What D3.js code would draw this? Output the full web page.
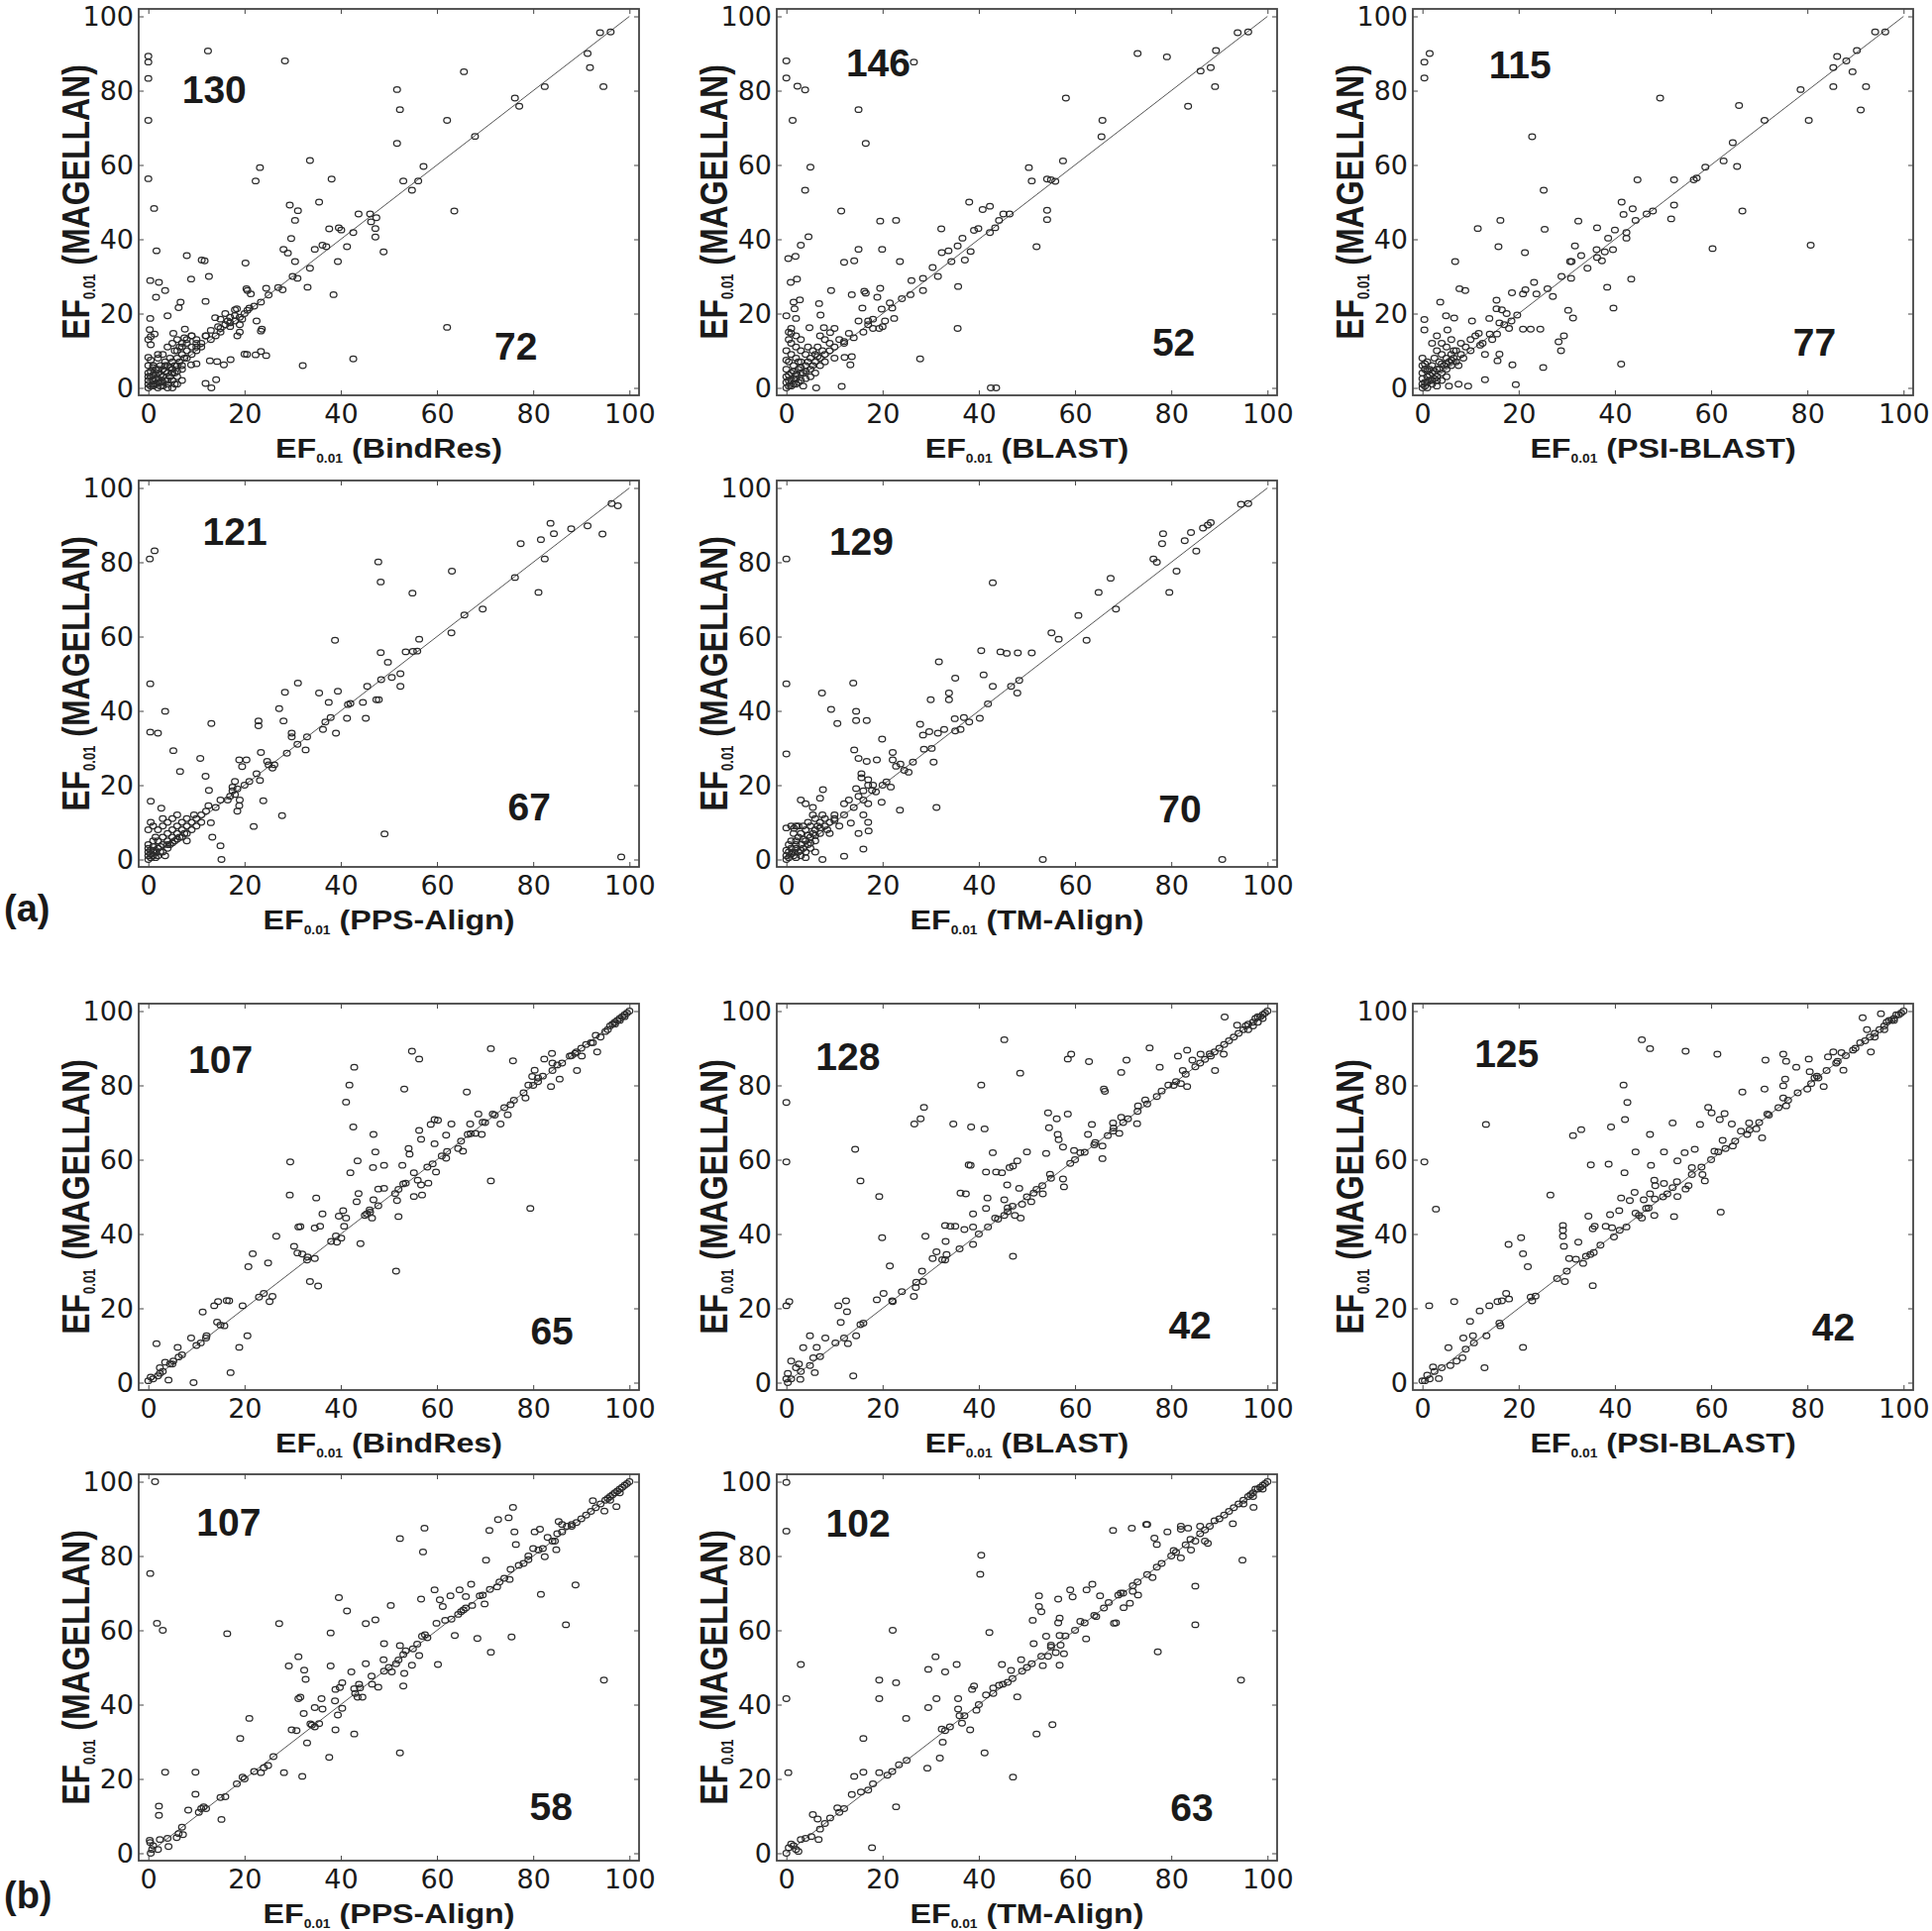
<!DOCTYPE html>
<html>
<head>
<meta charset="utf-8">
<script src="https://cdn.jsdelivr.net/npm/d3@7"></script>
<style>
  body { margin: 0; background: #fff; }
  svg { display: block; }
</style>
</head>
<body>
<script>

var tools = ['BindRes', 'BLAST', 'PSI-BLAST', 'PPS-Align', 'TM-Align',
             'BindRes', 'BLAST', 'PSI-BLAST', 'PPS-Align', 'TM-Align'];
var aboveCounts = [130, 146, 115, 121, 129, 107, 128, 125, 107, 102];
var belowCounts = [72, 52, 77, 67, 70, 65, 42, 42, 58, 63];
// where each count sits, in data units
var aboveAt = [[13.7, 80.3], [19.1, 87.4], [20.3, 86.9], [18, 88.3], [15.6, 85.6],
               [15, 87], [12.8, 87.7], [17.5, 88.6], [16.7, 89.1], [14.9, 88.7]];
var belowAt = [[76.4, 11.3], [80.5, 12.4], [81.5, 12.4], [79.2, 14.1], [81.8, 13.7],
               [83.9, 13.8], [83.9, 15.4], [85.4, 14.9], [83.7, 12.5], [84.3, 12.3]];
var ticks = [0, 20, 40, 60, 80, 100];
var partLabels = ['(a)', '(b)'];

// (a) panels: [x, y] = [EF tool, EF MAGELLAN]
var aBindRes = [[0,89.3],[0,87.7],[0,83.3],[0,72],[0,56.3],[1.2,48.3],[12.4,90.7],[28.4,88],[51.7,80.3],[52.3,74.9],[51.7,65.8],[65.6,85.1],[62.1,72],[63.6,47.6],[62.1,16.3],[67.9,67.7],[76.2,78],[77.1,75.8],[82.4,81.1],[91.3,90],[91.8,86.2],[94.6,81.1],[93.9,95.6],[96.1,95.8],[33.6,61.2],[23.2,59.3],[22.3,55.7],[38.1,56.2],[35.5,50],[57.2,59.6],[53,55.7],[56.1,55.7],[54.8,53.2],[43.7,46.8],[46.1,46.8],[46.3,44.7],[47.4,45.8],[47.2,42.9],[47.2,40.6],[48.9,36.6],[42.6,41.8],[37.6,42.8],[39.6,43.1],[40.1,42.5],[41.3,38],[39.4,34],[38.5,25.1],[37,38],[34.6,37.3],[36.2,38.4],[33.6,32.2],[33.1,27.1],[29.4,49.2],[31.1,47.7],[30.5,45.1],[29.7,40.2],[28.1,37.3],[29,36.3],[30.5,34],[31,29.5],[27.9,26.4],[11.1,34.4],[11.7,34.2],[8,35.6],[1.7,36.9],[8.9,29.3],[12.6,30],[0.4,28.9],[2.2,28.4],[3.5,26.2],[1.6,24.4],[6.7,23.1],[6.3,21.6],[11.9,23.3],[20.2,33.6],[20.4,26.7],[20.6,26.2],[21.3,25.3],[24.5,26.8],[23.4,23.1],[20.6,20.9],[18.4,21.3],[22.5,18],[23.6,15.8],[23.4,15.3],[0.4,18.7],[4,19.4],[0.3,15.7],[0.5,13.8],[1.3,14.5],[0,13],[0.5,11.6],[0,8.2],[2,9],[7.6,15.8],[5.2,14.7],[7.5,13.5],[9,14],[10,12],[11.9,14],[13,13],[13.9,18.9],[15,18.5],[16,20],[17,19],[18,21],[18,18],[19,17],[17,16.5],[15,16],[14,14],[19,15],[18.5,14],[11.9,1.2],[13.1,0],[14.1,2.2],[12.8,7.3],[14.3,7.1],[15.7,6.2],[17.1,7.6],[20,9.1],[22.3,8.9],[23.4,9.8],[24.5,8.7],[20.5,9],[8.9,6.2],[10,6.5],[32.1,6],[42.6,7.8],[15,15],[16,17],[17,17.5],[19,19],[20,20],[21,21.5],[22,22],[25,25],[27,27],[30,30],[16.5,18],[18,19.5],[19.5,18.5],[14.5,16.5],[13,15.5],
  [0,0],[0,1],[0,2],[0.5,3],[0,4],[1,0.5],[1,2],[1,3.5],[1.5,1],[1.5,5],[2,0],[2,2.5],[2,4],[2.5,1.5],[2.5,6],[3,3],[3,5],[3,0.5],[3.5,2],[3.5,7],[4,4],[4,1],[4,6],[4.5,3],[4.5,8],[5,5],[5,2],[5,7],[5.5,4],[5.5,10],[6,6],[6,3],[6,8],[6.5,11],[7,9],[7,5],[7.5,8],[8,10],[8,12],[9,11],[10,10],[10,13],[11,12],[12,14],[5,0],[6,1],[4,0],[7,2],[5.5,1],[3,9],[2,8],[1,6],[0,6],[0.5,7.5],[4,11],[5,12],[6,13],[7,12],[8,13],[9,14],
  [0.5,0.5],[1,1],[1.5,2.5],[2,1.5],[0.5,4.5],[1,5.5],[2.5,3.5],[3,1.5],[3.5,4.5],[4,2],[0,3],[1.5,3.5],[2,5],[2.5,0.5],[3.5,6],[4.5,5.5],[5,4],[5.5,6],[6,4.5],[6.5,7],[7,6],[8,8],[9,9],[10,11],[11,11],[6,10],[7,11]];

var aBlast = [[0,88],[0,83.4],[2.3,81.2],[3.9,80.2],[1.3,72],[5,59.4],[3.9,53.2],[4.6,40.7],[3,38.4],[0.4,34.8],[1.9,35.4],[0.9,28.4],[2.2,29.3],[2.8,23.7],[1.5,23.1],[1.7,21.3],[0,19.4],[2,18.7],[1,14.7],[0.5,13],[4.8,16.2],[6.8,22.7],[7.1,19.6],[7.8,16.2],[9.1,14.9],[10,16],[9.3,26.2],[11.4,47.6],[15,74.9],[16.5,65.8],[15,37.3],[12,33.8],[14.1,34.2],[13.6,25.1],[16.2,26],[16.5,25.5],[15.8,21.5],[13,14.7],[12.1,8.2],[13.6,8.4],[13.3,6.2],[11.5,0.4],[6.2,0],[19.5,44.9],[22.8,45.1],[19.9,37.3],[23.6,34],[19.5,26.8],[18.9,24.4],[21.5,22.9],[22.4,18.7],[19.8,21.2],[20.5,18],[19.3,16],[17,18],[18,16],[15,18],[27.8,7.8],[26,28.9],[25.8,25.1],[28.4,26.2],[28.4,29.5],[30.4,32.4],[31.5,30],[32.2,42.8],[32.3,36.4],[33.7,36.9],[34.3,34],[35.6,38.2],[36.6,40.3],[35.6,16],[35.7,27.3],[37.1,34.4],[38.3,36.7],[38,50],[39,42.4],[39.9,42.9],[40.8,48],[42.3,48.9],[42.3,41.8],[43.4,43.1],[44.2,45.1],[45.1,46.8],[46.4,46.8],[42.5,0],[43.6,0],[50.4,59.3],[51,55.7],[52,38],[54.2,56.2],[55,56],[55.9,55.6],[54.2,47.8],[54.2,45.3],[57.5,61.1],[58.1,78],[65.7,72],[65.5,67.6],[73,90],[79.1,89.1],[83.5,75.8],[86.1,85.3],[88.2,86.2],[89.1,81.1],[89.3,90.8],[93.8,95.6],[96,95.8],[26.5,87.7],[24,24],[22,21.5],[17,17],[14,13.5],[12,12],[16,15],[18,18.5],[20,16.5],
  [0,0],[0,1.5],[0,3],[0,5],[0.5,2],[0.5,7],[1,0.5],[1,4],[1,9],[1.5,2.5],[1.5,6],[2,1],[2,3.5],[2,8],[2,11],[2.5,5],[3,2],[3,7],[3,10],[3.5,4],[3.5,0.5],[4,6],[4,9],[4,2.5],[4.5,11],[5,5],[5,8],[5,3],[5.5,10],[6,7],[6,4],[6,9],[6.5,11],[7,8],[7,6],[7.5,10],[8,9],[8,7],[9,10],[9,12],[10,11],[10,8],[11,13],[12,12.5],[1,12],[0,10],[0.5,15],[2,14],[3,13],[1,16],[7,14],[8,13],
  [0.5,0.5],[1,2],[1.5,1],[2,2.5],[2.5,1.5],[3,4],[0.5,3.5],[1.5,4.5],[4,4.5],[4.5,7],[5.5,6],[6.5,8.5],[3,5.5],[2.5,7],[0,7.5]];

var aPsiBlast = [[0.4,87.7],[1.5,90],[0.4,83.4],[22.8,67.6],[49.4,78],[25.2,53.2],[11.5,42.9],[16.2,45.1],[25.4,42.7],[15.8,38],[21.3,36.4],[6.8,34],[7.7,26.7],[8.9,26.2],[3.7,23.1],[0.4,18.4],[0.4,15.6],[4.9,19.4],[6.6,18.8],[5.2,15.6],[10.3,18],[13.9,18.7],[15.4,21.3],[15.4,23.6],[16.5,21],[17.5,20],[18.6,25.6],[20.9,25.3],[21.4,26.4],[23.7,25.3],[23.2,28.4],[26,26.7],[27.1,24.6],[20.9,15.8],[22.5,15.8],[24.5,15.8],[18,16],[19.7,19.6],[11.7,14.7],[12.5,12],[14.5,13],[15.5,14.5],[16,9.1],[15.6,7.3],[13,9],[18.7,6.2],[25.1,5.5],[28.3,12.4],[29.4,14],[28.8,10],[30.3,20.9],[31.3,18.8],[19.4,0.9],[13,2.2],[9.5,0.5],[7.5,1],[5.5,0.5],[28.9,30],[30.9,29.5],[30.7,34],[31,34],[31.7,38.2],[32.4,44.9],[33,35.6],[34.3,32.2],[36.2,37.2],[36.3,35.1],[37.3,34.2],[36.3,43.1],[37.9,36.6],[38.6,40.3],[40,42.5],[39.6,37.2],[38.4,27.1],[39.7,21.5],[41.4,50],[41.8,46.7],[43.7,48.2],[42.4,41.8],[42.4,40.3],[44.3,45.1],[46.6,46.8],[47.9,47.6],[43.4,29.3],[41.3,6.4],[44.7,56],[52.3,56],[52.3,49.2],[51.7,45.5],[56.4,56],[57,56.5],[58.8,59.4],[60.3,37.5],[62.6,61.1],[64.5,66],[65.4,59.6],[65.8,76],[66.5,47.6],[71.1,72],[78.6,80.3],[80.3,72],[80.7,38.4],[85.4,86.2],[85.4,81.1],[86.2,89.2],[88.1,88],[89.4,85.1],[90.3,90.8],[91.1,74.8],[92.2,81.1],[94.1,95.8],[96.2,95.8],[17,17],[14,14.5],[12,11.5],[16,17.5],[18.5,18],
  [0,0],[0,1],[0,2.5],[0,4],[0,6],[0,8],[0.5,1.5],[0.5,5],[1,0],[1,3],[1,7],[1.5,2],[1.5,5],[2,1],[2,4],[2,6],[2.5,2.5],[2.5,8],[3,3],[3,0.5],[3,5],[3,10],[3.5,7],[4,4],[4,2],[4,9],[4,12],[4.5,6],[5,5],[5,3],[5,8],[5,11],[5.5,7],[6,6],[6,9],[6,13],[6.5,8],[7,7],[7,10],[7.5,6],[8,9],[8,12],[8.5,8],[9,11],[10,10],[10,13],[11,14],[2,12],[3,14],
  [0.5,0.5],[1,1.5],[1.5,3.5],[2,2],[2.5,4.5],[3,2],[3.5,5],[4,6.5],[5,6.5],[6,7.5],[6.5,10],[1,4.5],[0.5,6.5]];

var aPps = [[0.3,80.9],[1.3,83.1],[0.4,47.3],[0.4,34.3],[2,34],[3.5,39.9],[5.2,29.3],[6.6,23.7],[0.5,15.7],[2.7,13.8],[10.8,27.2],[11.9,22.4],[13.1,36.6],[12.6,18.6],[12.5,14.5],[13,9.9],[13.3,6],[15,3.7],[15.2,0],[17,17],[17.5,19.5],[18,21],[18,17.5],[19,16],[18.9,14.5],[18.5,13],[18.9,26.8],[19.5,25],[20.4,26.8],[16.5,16],[15,16],[14,14],[22.9,37.3],[22.9,36],[22.5,23.1],[23.2,21.3],[23.4,28.8],[24.7,26.4],[25.8,24.6],[26.2,25.5],[21.9,8.9],[23.9,15.8],[27.8,11.8],[27.2,40.6],[28.4,45],[28.1,37.3],[29.8,34],[29.8,33],[31.1,47.5],[32.7,29.5],[28.8,28.6],[31,31],[35.5,44.8],[37.5,42.3],[36.3,35],[36.8,37],[37.9,38.2],[39,34],[39.4,45.3],[38.8,59],[41.5,41.7],[41.3,38],[44.6,42.3],[45.5,46.6],[45.2,38],[47.4,43],[47.9,43],[47.8,80.1],[48.3,74.7],[48.3,55.7],[48.4,48.4],[49.1,6.9],[49.8,53.1],[50.6,49],[52.4,50],[52.4,46.6],[53.5,55.9],[54.9,71.7],[55,56],[55.9,56.1],[56.3,59.3],[63.1,77.6],[63,61],[65.7,65.8],[69.5,67.4],[76.2,75.9],[77.4,85],[81.6,86.1],[81.1,71.9],[82.4,80.9],[83.6,90.5],[84.3,87.7],[87.9,89],[91.3,89.8],[94.4,87.6],[96.3,95.8],[97.6,95.2],[98.3,0.7],[20,20],[21,21],[25,25.5],[33,33],[42,42],[17.5,18.5],[18.5,19],
  [0,0],[0,1],[0,2],[0,3],[0,4],[0.5,0.5],[0.5,2.5],[1,1],[1,3.5],[1,5],[1.5,2],[1.5,6],[2,1],[2,3],[2,5],[2,8],[2.5,2],[3,4],[3,6],[3,9],[3.5,1],[4,3],[4,5],[4,7],[4,10],[4.5,4],[5,6],[5,8],[5,11],[5.5,5],[6,7],[6,9],[6,12],[6.5,6],[7,8],[7,10],[7.5,7],[8,9],[8,11],[8,5],[9,10],[9,8],[9.5,12],[10,11],[10,9],[11,12],[11,10],[12,13],[0,8],[0.5,10],[1,9],[3,11],
  [0.5,1.5],[1,2.5],[1.5,0.5],[2.5,3.5],[3,2],[4,4],[5,4.5],[6,5.5],[7,6],[8,7]];

var aTm = [[0,80.9],[0,47.3],[0,28.4],[7.4,44.8],[9.3,40.4],[10.6,36.6],[13.9,47.5],[14.5,39.9],[14.5,37.4],[16.7,37.4],[14.1,29.5],[15,27.2],[16.7,26.4],[18.8,26.8],[19.9,32.4],[15.6,23.1],[15.6,22],[17,21.5],[17,20],[14.5,19.1],[16,18.5],[17.8,18.6],[16,16],[17,15],[14,14],[16,12],[17,10],[17.1,7.7],[15,7],[16,2.8],[12,0.9],[7.5,0],[13.4,9.8],[12,15],[13,16],[7.6,18.8],[7,16.5],[3,16],[4,15],[5.5,14],[1.6,8.4],[0,8.5],[18.6,18.2],[19.8,15.4],[20.8,20.9],[21.7,19.5],[22.1,28.8],[22.1,26.8],[22.8,25.1],[23.7,25.7],[24.5,24],[23.6,13.3],[25.4,23.5],[26.3,26.2],[27.8,36.4],[28.4,33.5],[28.6,29.7],[30,43],[29.7,34.4],[30.6,26.2],[30.2,29.9],[31.2,14],[31.7,53.2],[31.5,34],[32.8,35],[33.8,44.8],[33.8,43],[35.1,48.8],[35,37.9],[35.1,34.6],[36.2,35],[36.9,38.2],[38,37],[40.5,56.2],[41,49.7],[40.2,38],[41.9,41.9],[42.9,74.5],[42.9,46.6],[44.5,55.9],[45.8,55.5],[48.1,55.6],[51,55.6],[46.7,46.6],[48,44.8],[48.4,48.2],[53.3,0],[55.1,61],[56.6,59.3],[60.7,65.7],[62.4,59],[64.9,71.9],[67.4,75.7],[68.5,67.4],[76.3,80.9],[77,80],[78.3,87.7],[78.1,85],[79.6,71.9],[81.1,77.6],[82.8,85.8],[84.1,88],[85.2,83],[86.6,89.2],[87.6,90],[88.2,90.7],[94.5,95.6],[96,95.8],[90.6,0],[20,20],[12,12],[10,10.5],[15,17],[18,20],
  [0,0],[0,1],[0,2.5],[0.5,0.5],[0.5,4],[1,1.5],[1,3],[1,5],[1.5,2],[1.5,7],[2,0.5],[2,3],[2,5],[2,9],[2.5,2],[2.5,6],[3,1],[3,4],[3,7],[3.5,3],[3.5,9],[4,2],[4,5],[4,8],[4.5,4],[4.5,10],[5,6],[5,3],[5,9],[5.5,7],[5.5,12],[6,5],[6,8],[6,11],[6.5,9],[7,7],[7,10],[7.5,12],[8,9],[8,11],[8.5,8],[9,10],[9,7],[10,11],[10,12],[11,9],[4,0.5],[6,2],[1,9],[2.5,9],
  [0.5,2],[1.5,1],[2,4],[3,2.5],[3.5,5.5],[4.5,6.5],[5,4.5],[6,6.5],[7,8.5]];

// (b) panels
var bBindRes = [[0,0.5],[0.5,1.5],[1,1],[2,1.8],[2.4,2.5],[1.7,10.5],[2.4,4],[4.2,0.7],[3.5,5.5],[4.5,5],[5.2,5.8],[6.1,9.5],[6.3,6.9],[8.9,12],[9.4,0],[11.3,19],[10.9,10.7],[12.1,12.6],[13.7,20.7],[14.5,21.8],[14.3,16.3],[15.8,15.3],[16.3,22.1],[16.8,22],[19.6,20.7],[17.1,2.7],[18.9,9.5],[20.6,12.6],[20.8,31.2],[21.7,34.7],[24,24],[25.2,21.8],[25.8,23.2],[24.9,32.2],[26.6,39.4],[29.5,59.4],[29.4,50.5],[30.3,36.7],[31,34.9],[31.2,41.9],[31.6,42],[32,34.6],[33.1,33.8],[33.6,27.2],[35.3,26],[34.9,49.7],[34.6,41.6],[35.7,42.1],[36.2,45.4],[34.6,33.4],[39.2,37.8],[40.1,38.9],[39.6,44.8],[40.5,46.3],[41.1,44.3],[40.7,42.1],[41.1,75.5],[41.8,80.1],[42,56.5],[42.6,68.8],[42.8,84.9],[43.5,59.7],[43.7,50.9],[43.3,48.7],[44.1,37.4],[45.4,45.4],[46.1,45.9],[46.5,44.3],[46.8,49.2],[46.8,66.8],[47.2,62.1],[46.7,57.9],[49,58.5],[47.8,52.1],[49,52.3],[47.8,47.6],[51.3,50.9],[51.7,49],[52,44.7],[51.5,30],[52.8,58.5],[53.2,79],[53.5,53.7],[54.1,63],[54.3,61.5],[54.8,89.2],[55.2,56.5],[56.3,87.1],[55.2,50.1],[56,54.5],[56.3,67.9],[56.7,65.5],[56.7,53.2],[56.9,50.5],[58.2,53.7],[58.7,69.5],[59.1,58.9],[59.5,70.8],[60.2,70.6],[59.5,64.3],[59.8,56.7],[61.9,66.6],[62.1,62.2],[61.9,60.4],[63,69.6],[64.4,63],[65.4,62.3],[66.2,78.2],[66.4,66.8],[66.9,69.6],[68,67.1],[68.6,72.3],[69.3,66.8],[69.5,70.1],[71.2,89.9],[71.2,54.3],[71.6,72.3],[73.2,69.6],[74.7,72.1],[75.3,74.8],[75.8,86.6],[78.4,76.6],[79.4,46.9],[79,80.1],[79.8,82.4],[80.3,84.1],[81,82],[82.3,87.1],[83.7,79.7],[83.9,88.6],[85.5,81.7],[84,86],[87.6,87.9],[88.7,88.6],[89.1,84],[90.1,87.9],[92.4,91.5],[93.3,89],[92,91.5],[94,93],[95,94.5],
  [3,3],[5,5],[7,7.5],[10,10],[12,12],[15,15.5],[23,23],[33,33],[38,38],[39,39.5],[45,45],[46,46.5],[52,52],[53,53.5],[58,58],[61,61],[65,65],[67,67],[70,70],[72,72],[74,74],[76,76],[78,78],[80,80],[81,81],[82,82.5],[84,84],[85,85.5],[86,86],[88,88],[89,89],[90,90],[91,91],[93,93.5],[96,96],[96.5,96.5],[97,97],[97.5,97.5],[98,98],[98.5,98.5],[99,99],[99.5,99.5],[100,100],[95.5,95],[97,96.5],[98,97.5],[99,98.5]];

var bBlast = [[0,75.4],[0,59.4],[0,20.7],[0.6,21.8],[0,1],[0.3,2.5],[0.3,0],[1,5.8],[2,4],[2.6,5],[2.9,0.9],[3.5,9.4],[4.9,12.6],[4.9,4.6],[5.6,6.7],[5.9,2.7],[6.3,9.5],[8.1,12],[10.2,10.7],[10.8,20.7],[11.3,16.2],[12.4,22],[12.6,19.1],[12.8,10.5],[14.5,12.6],[13.9,1.8],[15.4,15.6],[14.3,62.8],[15.4,54.3],[19.3,50.1],[19.9,39],[21.5,31.4],[20.2,24],[18.8,22.3],[22.1,21.8],[26.6,69.6],[27.9,71],[28.6,74.1],[28.9,39.4],[28.2,30],[28.4,27.2],[26.9,25.6],[26.5,23.2],[30.4,33.4],[31.2,35.2],[32.4,33.1],[33,42.3],[33.1,38],[33.3,34.5],[34.1,42.1],[34.7,69.6],[35.1,42.1],[36.2,51],[37.3,50.8],[37,41.2],[37.9,58.6],[38.3,58.5],[38.4,68.8],[38.8,45.4],[38.8,41.9],[38.8,37.2],[41.2,68.3],[40.5,80.1],[41.5,56.7],[41.8,49.7],[41.5,46.9],[41.9,41.9],[42.9,61.9],[43.6,56.7],[43.4,44.3],[44.8,56.5],[45.3,92.3],[45.3,49.2],[45.3,45],[46.4,57.9],[45.9,53.2],[46,47],[47.1,34],[47.1,58.3],[47.5,45],[48,59.7],[48.4,52.3],[48.6,83.3],[48.7,44.3],[49,48],[50.9,48.7],[50,62.1],[51.4,51],[53.2,53],[53.3,50.8],[54,61.7],[54.6,68.6],[54.4,72.6],[54.8,56.1],[56.2,71],[56.4,66.8],[56.6,65.4],[57.5,63.4],[57.5,54.8],[57.7,52.7],[58.5,87.1],[59.2,88.4],[58.5,72.3],[59,59],[59.8,62.5],[61.1,61.9],[62.9,86.4],[62.7,66.8],[63.5,69.5],[64.2,64.6],[65.7,60.3],[65.7,63.7],[66.2,78.4],[66,79],[66.8,66.5],[67.9,67.7],[67.9,69.9],[69.2,67.1],[69.6,83.5],[70.7,86.8],[69.6,71.4],[72.9,69.7],[73.1,74.5],[74.6,76.1],[75.5,90.1],[77.6,84.9],[79.4,80.1],[80.5,80],[82,80.5],[81.4,87.9],[83.3,79.7],[83.3,89.5],[82.4,84],[84.4,86.8],[85,85],[86.1,88.4],[88.2,87.9],[89.1,84],[90.9,88.4],[91.1,98.4],[93.7,96.2],
  [1,1],[3,3],[7,7],[12,12],[16,16],[22,22],[24,24.5],[27,27],[33,33],[36,36],[40,40],[44,44],[46,46],[47,47.5],[50,50],[52,52],[55,55],[60,60],[62,62],[64,64],[68,68.5],[70,70],[71,71],[73,73],[75,75],[77,77],[78,78.5],[81,81],[83,83],[86,86],[87,87],[88,88.5],[89,89],[90,90],[91,91],[92,92],[93,93],[94,94],[95,95],[95.5,96],[96,96.5],[97,97],[97.5,98],[98,98.5],[98.5,98.5],[99,99],[99.5,99.5],[100,100],[96,95],[97,96],[98,97],[99,98]];

var bPsiBlast = [[0.4,59.4],[1.4,20.7],[2.8,46.7],[6.6,21.8],[0,0.5],[1,2],[1.5,1],[2.2,4.2],[3.4,1.1],[2.5,3],[5.4,9.4],[5.8,4.6],[7.1,5.8],[8.3,6.7],[8.5,12],[9.9,16.5],[10.5,12.6],[10.7,10.7],[11.9,19.3],[13.2,69.5],[12.9,4],[13.3,12.6],[13.9,20.7],[15.6,21.8],[16.5,22],[16.2,15.3],[17.9,37.2],[17.4,24],[18,22.5],[20.5,39],[20.9,34.7],[21.9,31.2],[20.9,9.5],[22.8,22],[23.5,23.3],[26.6,50.5],[29.2,42.3],[29.2,41],[29.2,39.4],[29.4,36.7],[29.6,27.2],[30.5,33.4],[31.3,66.5],[33,68.1],[31.9,33.2],[32.4,37.8],[33.4,32.1],[34.5,44.8],[34.9,34.5],[35.4,41.4],[35.8,42.1],[35,58.6],[35.4,26.1],[35.6,35],[38.7,58.8],[39.2,68.8],[38.1,42.1],[39,45.2],[39.4,41.7],[39.8,39.2],[40.9,46.3],[41.3,49.7],[41.8,80.1],[42.6,75.4],[42.1,70.8],[42,56.5],[42.4,41.9],[43.1,49],[44.1,51.2],[44.3,62.1],[44.3,45.6],[45.6,92.3],[45.6,44.3],[46,49.2],[46.5,46.9],[47.3,89.9],[47.3,66.8],[47.5,58.5],[47.3,50.8],[48.2,45],[48.2,54.5],[48.4,53],[48.3,49.4],[50.2,53.6],[50.2,62.1],[50.9,50.8],[52,69.9],[52.9,54.1],[52.3,44.7],[53,59.7],[53,50.1],[54.5,61.9],[54.7,52.1],[54.7,89.2],[55.3,53],[56,57.9],[56.6,62.8],[57.7,69.5],[58.7,54.3],[58.2,56],[59.4,74.1],[60.1,72.6],[61.3,88.4],[62,45.9],[61.8,70.8],[62.8,72.4],[60.7,62.3],[61.5,62.1],[62.4,65.2],[64.5,63.7],[64.3,69.6],[66.5,78.2],[66.2,67.7],[67.5,66.8],[67.9,69.9],[69.4,68.3],[70.6,65.9],[71.3,86.8],[71.1,79],[71.7,72.3],[75.4,81.7],[75,79.9],[75,88.4],[75.6,86.5],[77.7,84.9],[75,76.6],[75.6,74.5],[80,79],[80.3,87.1],[80.5,83.7],[80.8,80.5],[81.5,82],[82.3,82],[83.4,79.7],[84.3,87.7],[85.4,89],[87.1,88.8],[87.5,84.1],[86.3,86.5],[89.5,89.5],[91.5,98.2],[92.4,95],[93.2,89],[95.3,99.3],
  [0.5,0.5],[4,4],[9,9],[16,16],[22.5,23],[28,28],[30,30],[34,34],[37,37],[41,41],[45,45],[47,47],[50,50],[52,52.5],[56,56],[58,58],[60,60],[63,63],[65,65],[68,68],[70,70],[72,72],[74,74],[76,76],[78,78],[82,82.5],[84,84],[86,86],[88,88],[90,90],[91,91.5],[92,92],[93,93],[94,94],[95,95],[96,96],[96.5,97],[97,97.5],[97.5,97.5],[98,98],[98.5,99],[99,99],[99.5,99.5],[100,100],[94,93],[96,95],[98,97.5]];

var bPps = [[1.4,100],[0.4,75.3],[1.8,61.9],[3,60],[3.5,21.8],[2.2,12.7],[2.2,10.2],[0.4,2.9],[0.3,3.5],[0.8,1],[1,2],[2,1],[2.4,3.7],[4.2,1.8],[5.9,4.2],[6.3,5.3],[7,7],[7.2,5],[8.3,11.6],[9.8,21.8],[9.8,15.9],[10.5,11],[11,12],[11.5,12.5],[15.2,9.1],[16,15.2],[16.4,59.1],[18.4,18.7],[19.1,30.9],[21,36.3],[19.6,20.5],[23.4,21.7],[24,23],[24.9,23.6],[27.2,61.8],[28.2,21.7],[29.2,50.4],[31.2,52.9],[29.8,33.2],[30.8,33],[31.2,41.6],[31.6,42],[32,20.7],[32.4,49.3],[32.7,46.8],[32.3,37.6],[33,29.7],[33.7,34.8],[34.6,34],[34.6,39.2],[36,41.6],[36.2,38.8],[35.5,34.9],[37.9,59.3],[37.9,50.4],[37.6,25.8],[38.9,44.1],[38.8,41],[38.9,33.2],[39.4,37.2],[39.8,44.6],[40.3,45.9],[39.6,68.8],[40.3,39],[41.3,65.2],[42.2,48.8],[42.8,32.1],[42.8,44.3],[43.5,42],[43.8,45.5],[44.5,42],[45.2,51],[45.2,61.8],[46.4,47.7],[47.2,62.8],[46.5,45.5],[47.8,44.7],[49,56.4],[48.9,52.1],[50.4,66.7],[50.6,48.8],[51.5,51],[52.3,84.7],[52.3,55.9],[52.3,27],[53,53.5],[53.2,48.4],[53,45],[53.5,54.5],[54.8,50.6],[55.9,56.3],[56.9,58.4],[56.3,53.2],[57.4,87.5],[57.1,81.1],[56.7,68.4],[57.5,58.8],[59.5,70.9],[60.2,50.8],[59.9,61.9],[60.6,68.2],[61.2,66.4],[61.7,62.7],[63.7,58.6],[62.8,69.3],[64.4,64.3],[64.7,70.9],[65.5,65.5],[66,69.1],[67.1,72.4],[67.3,66.7],[68.4,57.8],[68.9,69.3],[69.5,69.5],[70.2,78.9],[69.9,67.1],[71.2,54.1],[70.9,86.9],[72.5,71.7],[72.7,89.8],[74.9,90.3],[75.8,93.1],[76.1,86.5],[76.4,83.1],[75.3,76.4],[75.1,73.7],[75.5,58.2],[79,80],[80,82],[80.3,86.5],[81.4,87.2],[81.1,81.6],[81.6,69.7],[82.4,79.8],[83,85],[84.8,81.7],[84.5,84],[85,86],[85.3,89.3],[86.8,61.5],[86,88.5],[87,88],[88,88],[88.8,72.2],[92.4,94.9],[94.7,46.6],[94.8,92.1],[97.3,93.3],
  [0.5,0],[4,4],[12,12],[15,15],[20,20],[22,22],[26,26],[34,34.5],[43,43],[44,44.5],[49,49],[50,50],[52,52],[55,55],[58,58],[63,63],[65,65],[66,66],[71,71],[73,73],[74,74],[77,77.5],[78,78],[79,79],[82,82],[84,84],[86,86.5],[88,88.5],[89,89],[90,90],[91,91],[92,92],[93,93],[94,94],[95,95],[95.5,95.5],[96,96],[96.5,96.5],[97,97],[97.5,97.5],[98,98],[98.5,98.5],[99,99],[99.5,99.5],[100,100],[96,95],[98,97]];

var bTm = [[0,99.8],[0,86.7],[0,41.6],[0.4,21.7],[3,50.8],[0,0],[0.5,1.5],[1,2.5],[1.5,2],[2,1],[2.5,0.5],[3,3.7],[5.5,10.4],[5.2,4.5],[6.5,9.2],[6.7,3.7],[7,6.5],[9.1,9.5],[10.6,12.2],[12,12],[13.6,15.8],[14.1,20.7],[15.5,16.5],[16,21.8],[16,30.9],[17.8,1.5],[18,18.7],[19.3,46.6],[19.3,41.6],[19.3,21.7],[22,22],[22.1,60],[22.8,45.9],[23.4,23.8],[22.8,12.5],[24.9,36.3],[29.5,49.5],[29.5,39.2],[29.3,22.9],[31,52.9],[31.2,41.6],[31.9,25.6],[32.3,33.4],[32.5,29.9],[33,48.8],[34,34],[35.4,50.8],[35.7,41.6],[35.7,38.8],[36,37],[36.5,35],[38.2,33.2],[38.6,44.1],[39,45],[39.5,38.5],[40.5,80.2],[40.3,75.1],[41.2,27],[41.5,42.6],[42.2,59.4],[43,44.5],[44.2,45.2],[44.8,50.8],[46,46],[46.7,49.2],[47.1,20.5],[48,42.1],[48.8,52.1],[49,49],[51,51],[51.2,62.7],[51.4,56.4],[52,32.1],[52.5,69.3],[52.5,66.4],[53,65],[53.3,50.5],[54,58.4],[54.4,53],[55,56],[55.3,34.6],[56,54],[56.5,68.4],[56.8,63.3],[56.5,62],[56.8,58.6],[57,56],[56.8,50.6],[57.7,53.7],[59,70.9],[59.5,69],[61.1,62.4],[62.3,57.7],[62.4,70.9],[63.6,72.4],[64.4,63.7],[65.2,69.3],[68.1,61.9],[68.5,62],[67.9,86.9],[69,69.5],[69.5,70],[70.1,66.1],[71.4,67.3],[71.8,87.5],[72,70.5],[73.1,69.5],[74.8,88.5],[75,88.5],[76.1,74.2],[76.5,84.8],[77,83.1],[77.2,54.2],[79.2,86.5],[80,80],[80.5,81.5],[82,87.2],[82,79.5],[82,88],[84.1,81.6],[83.5,87.5],[85,71.9],[85,61.5],[85,84],[86,88],[87.6,83.4],[87,84],[92.8,88.7],[94.5,46.6],[94.8,78.9],[97.1,93.1],
  [4,4],[8,8],[11,11],[17,17],[21,21],[25,25],[33,33],[37,37],[40,40],[43,43],[45,45.5],[47,47],[50,50],[53,53],[55,55.5],[58,58.5],[60,60],[62,62],[64,64],[66,66],[67,67.5],[70,70],[72,72],[73,73],[75,75],[77,77],[78,78],[81,81],[83,83],[84,84.5],[86,86],[87,87],[88,88],[89,89.5],[90,90],[91,91],[92,92],[93,93],[94,94],[95,95],[96,96],[96.5,96.5],[97,97],[97.5,98],[98,98],[98.5,98.5],[99,99],[99.5,99.5],[100,100],[95,94],[97,96],[99,98]];

var panels = [aBindRes, aBlast, aPsiBlast, aPps, aTm, bBindRes, bBlast, bPsiBlast, bPps, bTm];

var colX = [140, 784, 1426];
var rowY = [9, 485, 1013, 1488];
var slots = [[0, 0], [1, 0], [2, 0], [0, 1], [1, 1], [0, 2], [1, 2], [2, 2], [0, 3], [1, 3]];
var width = 505, height = 390;
var labelFont = 'Liberation Sans, Arial, sans-serif';

var svg = d3.select('body').append('svg')
    .attr('width', 1950)
    .attr('height', 1949);

var xScale = d3.scaleLinear().domain([-2, 102]).range([0, width]);
var yScale = d3.scaleLinear().domain([-2, 102]).range([height, 0]);

panels.forEach(function(points, i) {
  var g = svg.append('g')
      .attr('transform', 'translate(' + colX[slots[i][0]] + ',' + rowY[slots[i][1]] + ')');

  g.append('g')
      .attr('transform', 'translate(0,' + height + ')')
      .call(d3.axisBottom(xScale).tickValues(ticks).tickSize(-5).tickSizeOuter(0).tickPadding(9));
  g.append('g')
      .call(d3.axisLeft(yScale).tickValues(ticks).tickSize(-5).tickSizeOuter(0).tickPadding(5));
  g.append('g')
      .call(d3.axisTop(xScale).tickValues(ticks).tickSize(-5).tickSizeOuter(0).tickFormat(''));
  g.append('g')
      .attr('transform', 'translate(' + width + ',0)')
      .call(d3.axisRight(yScale).tickValues(ticks).tickSize(-5).tickSizeOuter(0).tickFormat(''));

  g.selectAll('.domain').remove();
  g.selectAll('.tick line').attr('stroke', '#444');
  g.selectAll('.tick text')
      .attr('font-family', 'DejaVu Sans')
      .attr('font-size', 27)
      .attr('fill', '#1a1a1a');

  g.append('line')
      .attr('x1', xScale(0)).attr('y1', yScale(0))
      .attr('x2', xScale(100)).attr('y2', yScale(100))
      .attr('stroke', '#555')
      .attr('stroke-width', 1);

  // the source figure is a bit wider than tall, so the rings are too
  g.selectAll('ellipse.pt')
      .data(points)
    .enter().append('ellipse')
      .attr('class', 'pt')
      .attr('cx', function(d) { return xScale(d[0]); })
      .attr('cy', function(d) { return yScale(d[1]); })
      .attr('rx', 3.4)
      .attr('ry', 2.8)
      .attr('fill', 'none')
      .attr('stroke', '#2a2a2a')
      .attr('stroke-width', 1.25);

  g.append('rect')
      .attr('width', width)
      .attr('height', height)
      .attr('fill', 'none')
      .attr('stroke', '#444')
      .attr('stroke-width', 1.8);

  var counts = [[aboveCounts[i], aboveAt[i]], [belowCounts[i], belowAt[i]]];
  counts.forEach(function(c) {
    g.append('text')
        .attr('x', xScale(c[1][0]))
        .attr('y', yScale(c[1][1]))
        .attr('text-anchor', 'middle')
        .attr('dominant-baseline', 'central')
        .attr('font-family', labelFont)
        .attr('font-weight', 'bold')
        .attr('font-size', 39)
        .attr('fill', '#1a1a1a')
        .text(c[0]);
  });

  // x label, EF with subscript 0.01
  var xl = g.append('text')
      .attr('transform', 'translate(' + (width / 2) + ',' + (height + 63) + ') scale(1.15,1)')
      .attr('text-anchor', 'middle')
      .attr('font-family', labelFont)
      .attr('font-weight', 'bold')
      .attr('font-size', 28)
      .attr('fill', '#1a1a1a');
  xl.append('tspan').text('EF');
  xl.append('tspan').attr('font-size', 12).attr('dy', 5).text('0.01');
  xl.append('tspan').attr('dy', -5).text(' (' + tools[i] + ')');

  var yl = g.append('text')
      .attr('transform', 'translate(-50,' + (height / 2) + ') scale(1.22,1) rotate(-90)')
      .attr('text-anchor', 'middle')
      .attr('font-family', labelFont)
      .attr('font-weight', 'bold')
      .attr('font-size', 32)
      .attr('fill', '#1a1a1a');
  yl.append('tspan').text('EF');
  yl.append('tspan').attr('font-size', 13).attr('dy', 5).text('0.01');
  yl.append('tspan').attr('dy', -5).text(' (MAGELLAN)');
});

svg.selectAll('text.part')
    .data(partLabels)
  .enter().append('text')
    .attr('class', 'part')
    .attr('x', 4)
    .attr('y', function(d, i) { return i === 0 ? 930 : 1926; })
    .attr('font-family', labelFont)
    .attr('font-weight', 'bold')
    .attr('font-size', 38)
    .attr('fill', '#1a1a1a')
    .text(function(d) { return d; });

</script>
</body>
</html>
